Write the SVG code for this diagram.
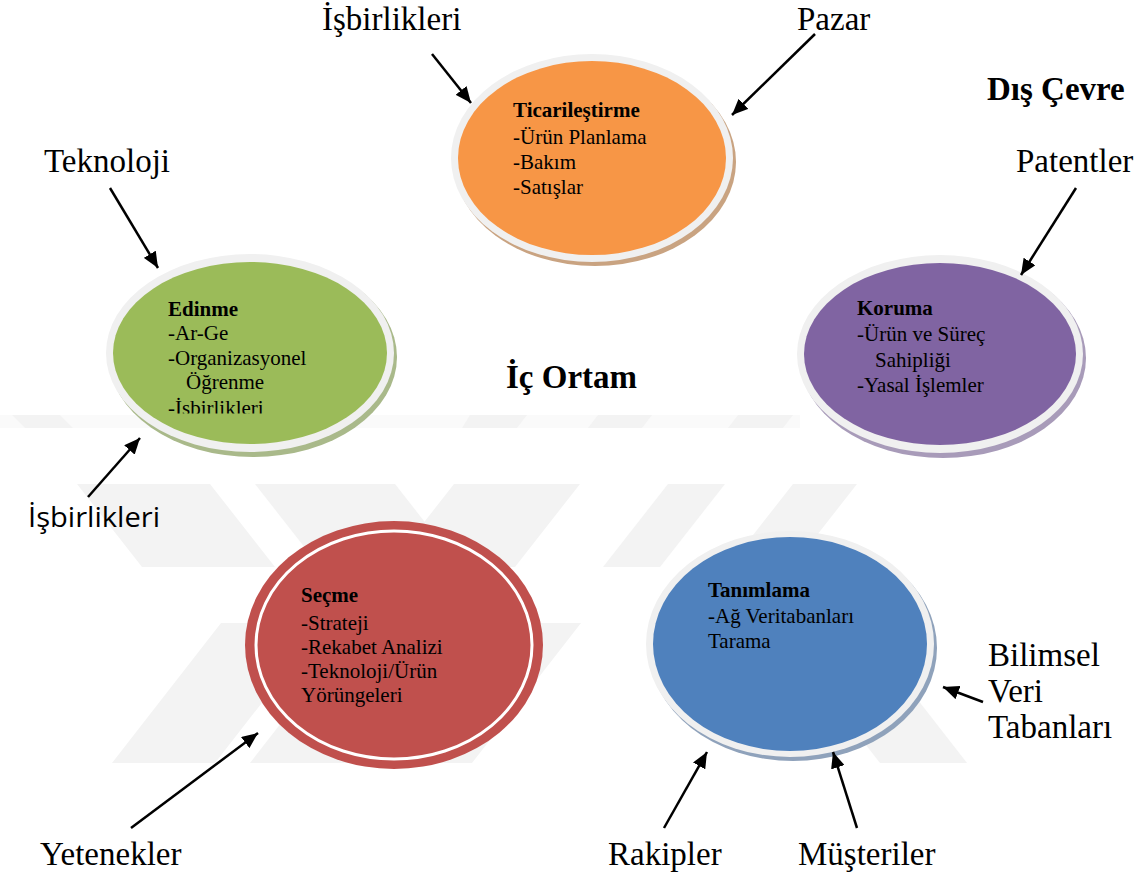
<svg xmlns="http://www.w3.org/2000/svg" width="1142" height="876" viewBox="0 0 1142 876">
<style>
.wm{fill:#f3f3f3}
.wm2{fill:#fafafa}
.ring{fill:#f0f0f0}
.nt{font-family:"Liberation Serif","Times New Roman",serif;font-size:21px;fill:#000}
.nb{font-weight:bold}
.lbl{font-family:"Liberation Serif","Times New Roman",serif;font-size:33px;fill:#000}
.hd{font-family:"Liberation Serif","Times New Roman",serif;font-weight:bold;fill:#000}
.sans{font-family:"Open Sans","Noto Sans",sans-serif;font-size:27px;fill:#000}
.con line{stroke:#000;stroke-width:2.5;marker-end:url(#ah)}
</style>
<defs>
<marker id="ah" markerUnits="userSpaceOnUse" markerWidth="18" markerHeight="14" refX="16" refY="7" orient="auto">
<path d="M0,0 L16,7 L0,14 z" fill="#000"/>
</marker>
<clipPath id="edclip"><rect x="100" y="250" width="300" height="163.5"/></clipPath>
</defs>
<rect width="1142" height="876" fill="#fff"/>
<g id="watermark">
<rect class="wm2" x="0" y="415" width="800" height="13"/>
<polygon class="wm" points="12,415 60,415 73,428 25,428"/>
<polygon class="wm" points="470,415 527,415 517,428 462,428"/>
<polygon class="wm" points="598,415 652,415 642,428 588,428"/>
<polygon class="wm" points="738,415 793,415 783,428 728,428"/>
<polygon class="wm" points="77,484 210,484 275,567 142,567"/>
<polygon class="wm" points="255,484 395,484 460,567 320,567"/>
<polygon class="wm" points="454,484 580,484 515,567 389,567"/>
<polygon class="wm" points="668,484 725,484 660,567 603,567"/>
<polygon class="wm" points="793,484 857,484 792,567 728,567"/>
<polygon class="wm" points="221,623 324,623 215,763 112,763"/>
<polygon class="wm" points="359,623 470,623 361,763 250,763"/>
<polygon class="wm" points="490,623 581,623 472,763 381,763"/>
<polygon class="wm" points="771,623 858,623 967,763 880,763"/>
</g>
<g id="ticarilestirme">
<ellipse cx="595" cy="162" rx="141" ry="104" fill="#c9a381"/>
<ellipse class="ring" cx="592" cy="158" rx="141" ry="104"/>
<ellipse cx="592" cy="158" rx="134" ry="97" fill="#F79646"/>
<text class="nt nb" x="513" y="117">Ticarileştirme</text>
<text class="nt" x="513" y="144">-Ürün Planlama</text>
<text class="nt" x="513" y="169">-Bakım</text>
<text class="nt" x="513" y="194">-Satışlar</text>
</g>
<g id="edinme">
<ellipse cx="253" cy="357" rx="144" ry="100" fill="#a9b98a"/>
<ellipse class="ring" cx="250" cy="353" rx="144" ry="99"/>
<ellipse cx="250" cy="353" rx="137" ry="91" fill="#9BBB59"/>
<text class="nt nb" x="168" y="316">Edinme</text>
<text class="nt" x="168" y="340">-Ar-Ge</text>
<text class="nt" x="168" y="365">-Organizasyonel</text>
<text class="nt" x="186" y="389">Öğrenme</text>
<text class="nt" x="168" y="415" clip-path="url(#edclip)">-İşbirlikleri</text>
</g>
<g id="koruma">
<ellipse cx="943" cy="358" rx="143" ry="100" fill="#a89bb9"/>
<ellipse class="ring" cx="940" cy="354" rx="143" ry="99"/>
<ellipse cx="940" cy="354" rx="136" ry="91" fill="#8064A2"/>
<text class="nt nb" x="857" y="315">Koruma</text>
<text class="nt" x="857" y="341">-Ürün ve Süreç</text>
<text class="nt" x="875" y="367">Sahipliği</text>
<text class="nt" x="857" y="392">-Yasal İşlemler</text>
</g>
<g id="secme">
<ellipse cx="394" cy="645" rx="149" ry="124" fill="#C0504D"/>
<ellipse cx="394" cy="645" rx="138" ry="114" fill="none" stroke="#fff" stroke-width="3"/>
<text class="nt nb" x="301" y="602">Seçme</text>
<text class="nt" x="301" y="630">-Strateji</text>
<text class="nt" x="301" y="654">-Rekabet Analizi</text>
<text class="nt" x="301" y="678">-Teknoloji/Ürün</text>
<text class="nt" x="301" y="702">Yörüngeleri</text>
</g>
<g id="tanimlama">
<ellipse cx="793" cy="648" rx="144" ry="113" fill="#8fa2bb"/>
<ellipse class="ring" cx="790" cy="644" rx="144" ry="113"/>
<ellipse cx="790" cy="644" rx="137" ry="107" fill="#4F81BD"/>
<text class="nt nb" x="708" y="597">Tanımlama</text>
<text class="nt" x="708" y="623">-Ağ Veritabanları</text>
<text class="nt" x="708" y="648">Tarama</text>
</g>
<g id="labels">
<text class="hd" x="506" y="388" font-size="33">İç Ortam</text>
<text class="hd" x="987" y="100" font-size="33">Dış Çevre</text>
<text class="lbl" x="322" y="30">İşbirlikleri</text>
<text class="lbl" x="797" y="30">Pazar</text>
<text class="lbl" x="44" y="172">Teknoloji</text>
<text class="lbl" x="1016" y="172">Patentler</text>
<text class="sans" x="28" y="527" textLength="132" lengthAdjust="spacingAndGlyphs">İşbirlikleri</text>
<text class="lbl" x="988" y="666">Bilimsel</text>
<text class="lbl" x="988" y="702">Veri</text>
<text class="lbl" x="988" y="738">Tabanları</text>
<text class="lbl" x="40" y="865">Yetenekler</text>
<text class="lbl" x="608" y="865">Rakipler</text>
<text class="lbl" x="798" y="865">Müşteriler</text>
</g>
<g id="connectors" class="con">
<line x1="432" y1="54" x2="471" y2="103"/>
<line x1="815" y1="34" x2="732" y2="115"/>
<line x1="110" y1="188" x2="158" y2="268"/>
<line x1="1076" y1="188" x2="1021" y2="275"/>
<line x1="88" y1="497" x2="140" y2="438"/>
<line x1="131" y1="828" x2="258" y2="733"/>
<line x1="664" y1="828" x2="707" y2="752"/>
<line x1="857" y1="828" x2="833" y2="752"/>
<line x1="983" y1="702" x2="943" y2="687"/>
</g>
</svg>
